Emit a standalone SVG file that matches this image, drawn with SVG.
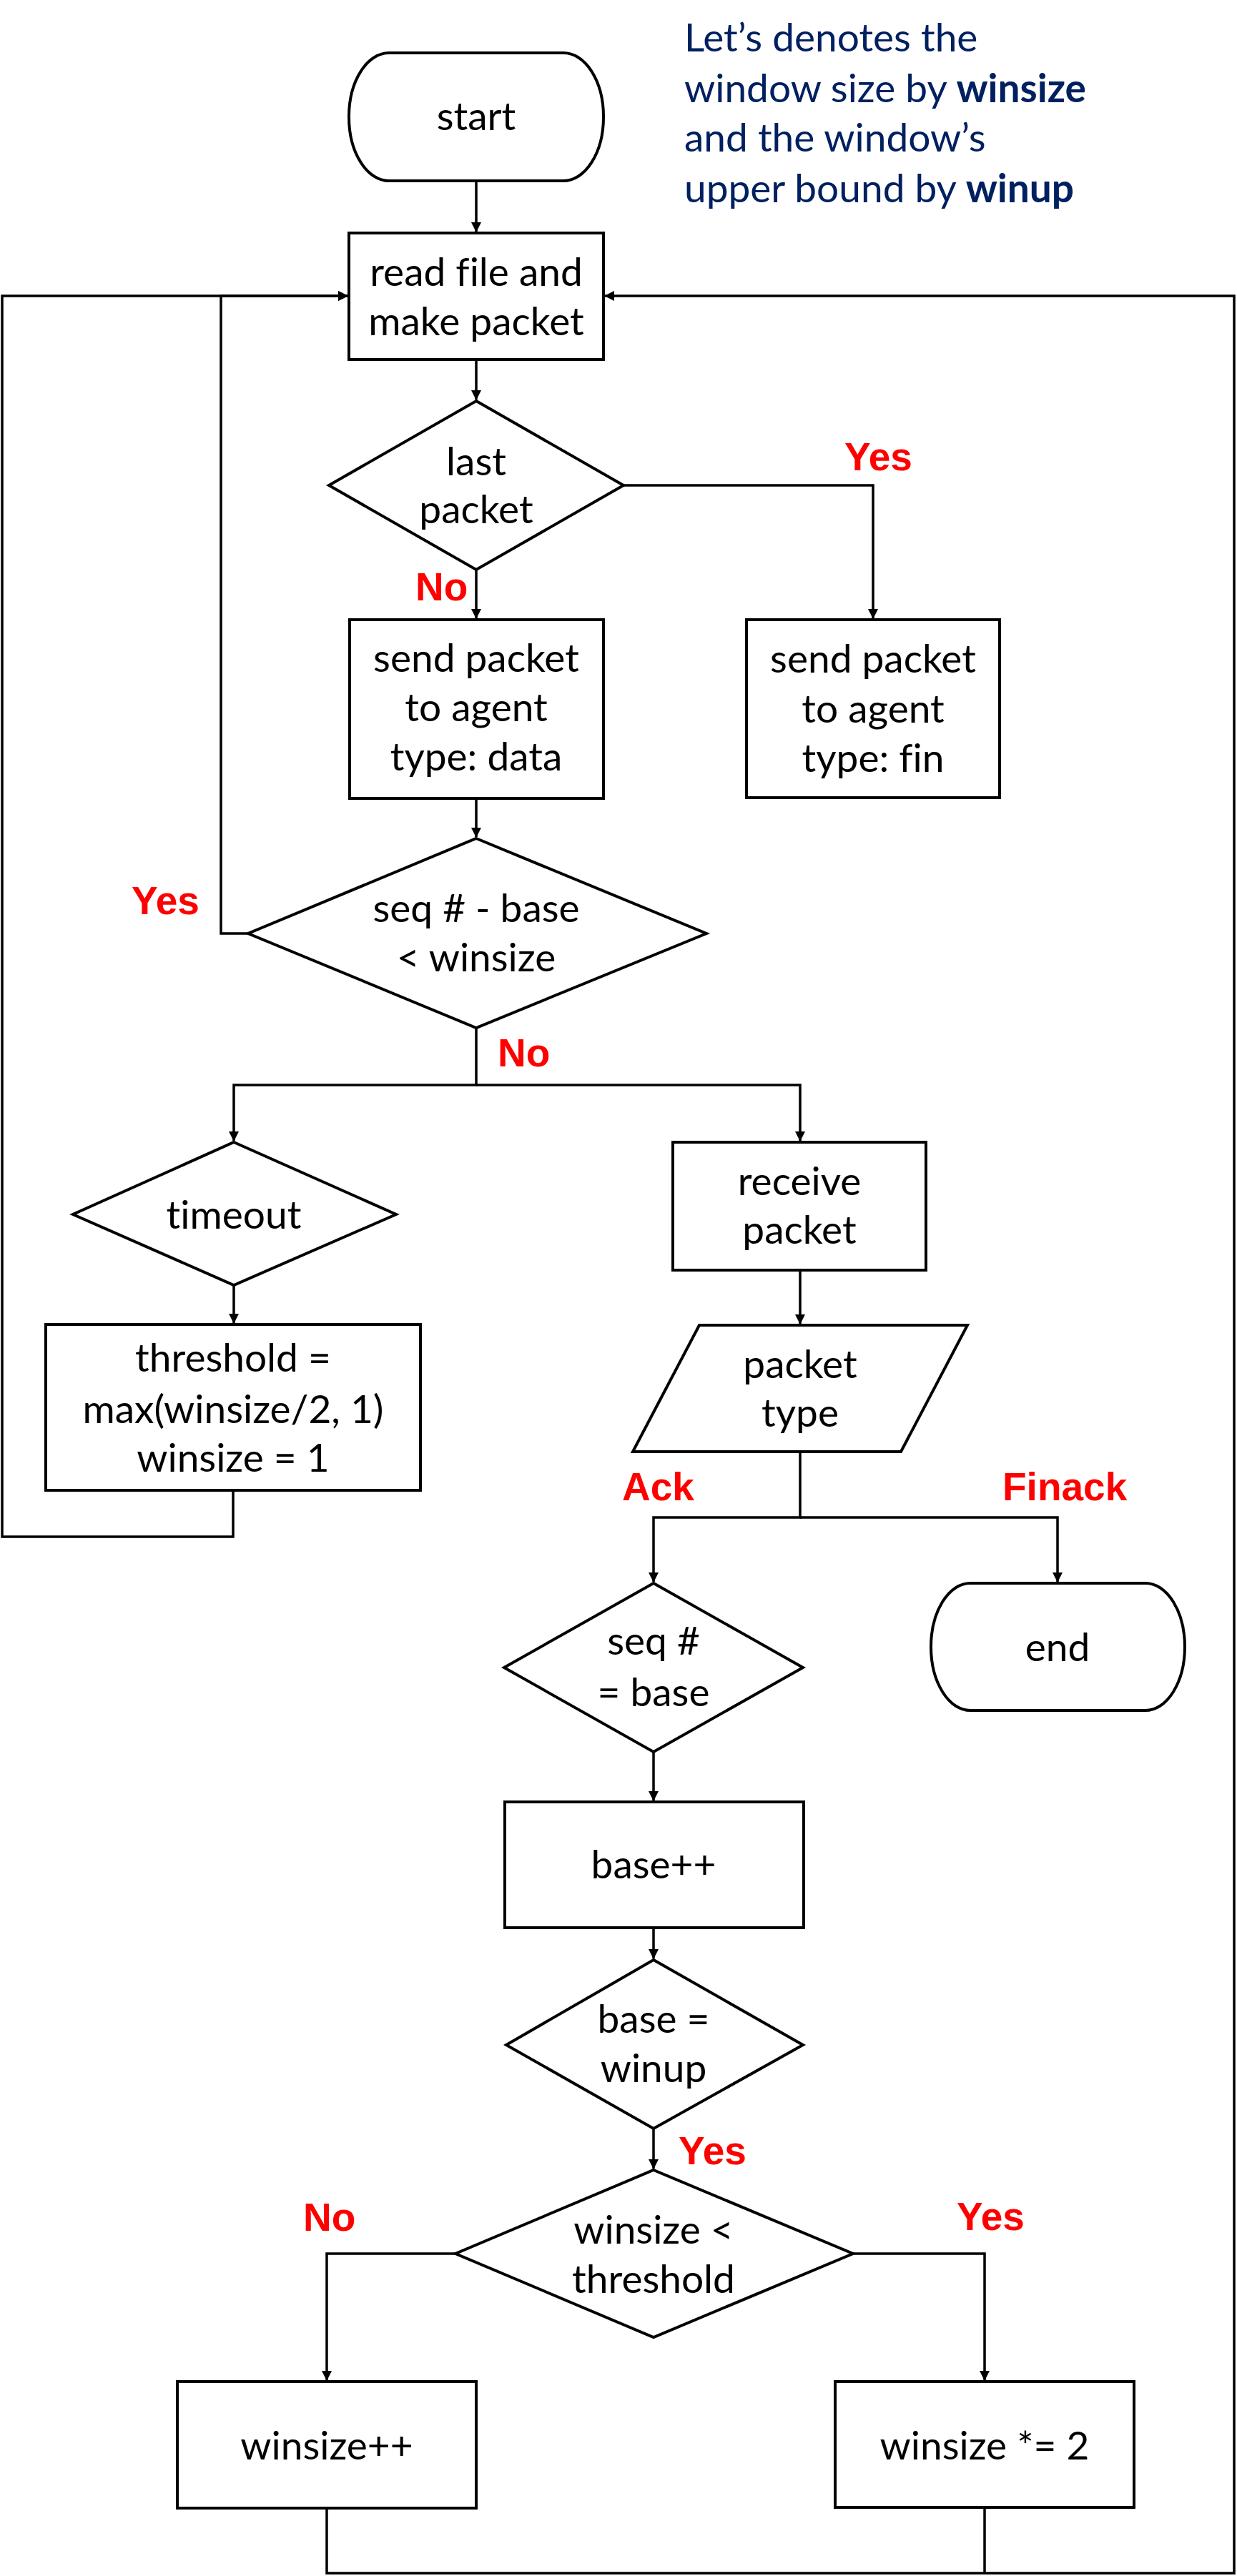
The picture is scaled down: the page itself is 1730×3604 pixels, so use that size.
<svg xmlns="http://www.w3.org/2000/svg" width="1730" height="3604" viewBox="0 0 1730 3604">
<defs>
<marker id="arr" markerUnits="userSpaceOnUse" markerWidth="16" markerHeight="16" viewBox="0 0 16 16" refX="14" refY="8" orient="auto">
<path d="M1,1 L15,8 L1,15 Z" fill="#000"/>
</marker>
<style>
.s{fill:#fff;stroke:#000;stroke-width:4}
.c{fill:none;stroke:#000;stroke-width:3.5}
.t{font-family:Lato,"Open Sans","Liberation Sans",sans-serif;font-size:55px;fill:#000;text-anchor:middle;font-variant-ligatures:none}
.l{font-family:"Liberation Sans",Arial,sans-serif;font-size:55px;font-weight:bold;fill:#FF0000}
.n{font-family:Lato,"Open Sans","Liberation Sans",sans-serif;font-size:55px;fill:#002060;font-variant-ligatures:none}
</style>
</defs>
<rect width="1730" height="3604" fill="#fff"/>

<g id="connectors">
<path class="c" d="M666,253 V324" marker-end="url(#arr)"/>
<path class="c" d="M666,503 V559" marker-end="url(#arr)"/>
<path class="c" d="M666,797 V865" marker-end="url(#arr)"/>
<path class="c" d="M872,679 H1221 V865" marker-end="url(#arr)"/>
<path class="c" d="M666,1117 V1171" marker-end="url(#arr)"/>
<path class="c" d="M347,1306 H309 V414 H486" marker-end="url(#arr)"/>
<path class="c" d="M326,2085 V2150 H3 V414 H486" marker-end="url(#arr)"/>
<path class="c" d="M666,1437 V1518 H327 V1596" marker-end="url(#arr)"/>
<path class="c" d="M666,1518 H1119 V1596" marker-end="url(#arr)"/>
<path class="c" d="M327,1798 V1851" marker-end="url(#arr)"/>
<path class="c" d="M1119,1777 V1852" marker-end="url(#arr)"/>
<path class="c" d="M1119,2031 V2123 H914 V2213" marker-end="url(#arr)"/>
<path class="c" d="M1119,2123 H1479 V2213" marker-end="url(#arr)"/>
<path class="c" d="M914,2451 V2519" marker-end="url(#arr)"/>
<path class="c" d="M914,2697 V2740" marker-end="url(#arr)"/>
<path class="c" d="M914,2978 V3034" marker-end="url(#arr)"/>
<path class="c" d="M1193,3153 H1377 V3330" marker-end="url(#arr)"/>
<path class="c" d="M637,3153 H457 V3330" marker-end="url(#arr)"/>
<path class="c" d="M457,3509 V3600 H1726 V414 H846" marker-end="url(#arr)"/>
<path class="c" d="M1377,3508 V3600"/>
</g>

<g id="note">
<text class="n" x="957" y="72">Let’s denotes the</text>
<text class="n" x="957" y="143">window size by <tspan font-weight="bold">winsize</tspan></text>
<text class="n" x="957" y="212">and the window’s</text>
<text class="n" x="957" y="283">upper bound by <tspan font-weight="bold">winup</tspan></text>
</g>

<g id="start">
<rect class="s" x="488" y="74" width="356" height="179" rx="56" ry="89"/>
<text class="t" x="666" y="182">start</text>
</g>

<g id="read">
<rect class="s" x="488" y="326" width="356" height="177"/>
<text class="t" x="666" y="400">read file and</text>
<text class="t" x="666" y="469">make packet</text>
</g>

<g id="last">
<polygon class="s" points="666,561 872,679 666,797 460,679"/>
<text class="t" x="666" y="665">last</text>
<text class="t" x="666" y="732">packet</text>
</g>

<g id="senddata">
<rect class="s" x="489" y="867" width="355" height="250"/>
<text class="t" x="666" y="940">send packet</text>
<text class="t" x="666" y="1009">to agent</text>
<text class="t" x="666" y="1078">type: data</text>
</g>

<g id="sendfin">
<rect class="s" x="1044" y="867" width="354" height="249"/>
<text class="t" x="1221" y="941">send packet</text>
<text class="t" x="1221" y="1011">to agent</text>
<text class="t" x="1221" y="1080">type: fin</text>
</g>

<g id="seqcheck">
<polygon class="s" points="666,1173 988,1306 666,1438 347,1306"/>
<text class="t" x="666" y="1290">seq # - base</text>
<text class="t" x="666" y="1359">&lt; winsize</text>
</g>

<g id="timeout">
<polygon class="s" points="327,1598 554,1699 327,1798 102,1699"/>
<text class="t" x="327" y="1719">timeout</text>
</g>

<g id="threshold">
<rect class="s" x="64" y="1853" width="524" height="232"/>
<text class="t" x="326" y="1919">threshold =</text>
<text class="t" x="326" y="1991">max(winsize/2, 1)</text>
<text class="t" x="326" y="2059">winsize = 1</text>
</g>

<g id="receive">
<rect class="s" x="941" y="1598" width="354" height="179"/>
<text class="t" x="1118" y="1672">receive</text>
<text class="t" x="1118" y="1740">packet</text>
</g>

<g id="ptype">
<polygon class="s" points="978,1854 1353,1854 1260,2031 885,2031"/>
<text class="t" x="1119" y="1928">packet</text>
<text class="t" x="1119" y="1996">type</text>
</g>

<g id="end">
<rect class="s" x="1302" y="2215" width="355" height="178" rx="55" ry="89"/>
<text class="t" x="1479" y="2324">end</text>
</g>

<g id="seqbase">
<polygon class="s" points="914,2215 1123,2333 914,2451 705,2333"/>
<text class="t" x="914" y="2315">seq #</text>
<text class="t" x="914" y="2387">= base</text>
</g>

<g id="baseinc">
<rect class="s" x="706" y="2521" width="418" height="176"/>
<text class="t" x="914" y="2628">base++</text>
</g>

<g id="basewinup">
<polygon class="s" points="914,2742 1123,2861 914,2978 708,2861"/>
<text class="t" x="914" y="2844">base =</text>
<text class="t" x="914" y="2913">winup</text>
</g>

<g id="wincheck">
<polygon class="s" points="914,3036 1193,3153 914,3270 637,3153"/>
<text class="t" x="914" y="3139">winsize &lt;</text>
<text class="t" x="914" y="3208">threshold</text>
</g>

<g id="wininc">
<rect class="s" x="248" y="3332" width="418" height="177"/>
<text class="t" x="457" y="3441">winsize++</text>
</g>

<g id="windouble">
<rect class="s" x="1168" y="3332" width="418" height="176"/>
<text class="t" x="1377" y="3441">winsize *= 2</text>
</g>

<g id="labels">
<text class="l" x="1181" y="658">Yes</text>
<text class="l" x="581" y="840">No</text>
<text class="l" x="184" y="1279">Yes</text>
<text class="l" x="696" y="1492">No</text>
<text class="l" x="870" y="2099">Ack</text>
<text class="l" x="1402" y="2099">Finack</text>
<text class="l" x="949" y="3028">Yes</text>
<text class="l" x="1338" y="3120">Yes</text>
<text class="l" x="424" y="3121">No</text>
</g>
</svg>
